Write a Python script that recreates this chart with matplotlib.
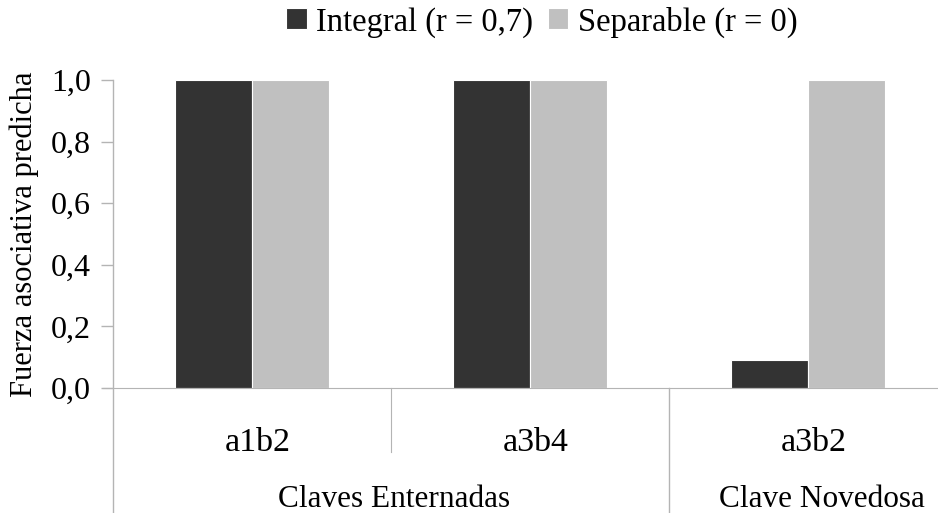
import numpy as np
import matplotlib.pyplot as plt
from matplotlib.transforms import blended_transform_factory

# data
categories = ["a1b2", "a3b4", "a3b2"]
integral = [1.0, 1.0, 0.09]
separable = [1.0, 1.0, 1.0]
yticks = [0.0, 0.2, 0.4, 0.6, 0.8, 1.0]
ytick_labels = ["0,0", "0,2", "0,4", "0,6", "0,8", "1,0"]
groups = ["Claves Enternadas", "Clave Novedosa"]
group_pos = [0.51, 2.05]

plt.rcParams['font.family'] = ['Liberation Serif', 'DejaVu Serif']

W, H = 938, 513
fig = plt.figure(figsize=(W / 100, H / 100), dpi=100)
ax = fig.add_axes([113 / W, 1 - 388 / H, 834 / W, 308 / H])

x = np.arange(len(categories))
w = 0.277
clr_dark = "#333333"
clr_light = "#c0c0c0"
axis_clr = "#b4b4b4"

ax.bar(x - w / 2, integral, w, color=clr_dark, edgecolor="white", linewidth=0.8,
       label="Integral (r = 0,7)")
ax.bar(x + w / 2, separable, w, color=clr_light, edgecolor="white", linewidth=0.8,
       label="Separable (r = 0)")

ax.set_xlim(-0.5, 2.5)
ax.set_ylim(0, 1.0)
ax.set_yticks(yticks)
ax.set_yticklabels(ytick_labels, fontsize=23)
ax.tick_params(axis='y', length=9, color=axis_clr, width=1, pad=7)
ax.set_xticks([])
for s in ["top", "right"]:
    ax.spines[s].set_visible(False)
ax.spines["left"].set_visible(False)
ax.spines["bottom"].set_color(axis_clr)
ax.spines["bottom"].set_bounds(-0.5 - 10 / 278, 2.5)

ax.set_ylabel("Fuerza asociativa predicha", fontsize=22)
ax.yaxis.set_label_coords(-(113 - 24) / 834, 0.5)
ax.yaxis.label.set_va("center")

# axis line and separators going down through the label area
tr = blended_transform_factory(ax.transData, ax.transAxes)
bottom = -(513 - 388) / 308
ax.plot([-0.5, -0.5], [1.0, bottom], transform=tr, color=axis_clr, lw=1, clip_on=False)
ax.plot([0.5, 0.5], [0, -(452 - 388) / 308], transform=tr, color=axis_clr, lw=0.8, clip_on=False)
ax.plot([1.5, 1.5], [0, bottom], transform=tr, color=axis_clr, lw=1, clip_on=False)

for i, c in enumerate(categories):
    ax.text(x[i] + 0.02, -(451 - 388) / 308, c, transform=tr, ha="center", va="baseline",
            fontsize=24.5)
for g, gx in zip(groups, group_pos):
    ax.text(gx, -(507 - 388) / 308, g, transform=tr, ha="center", va="baseline", fontsize=22.5)

fig.legend(loc="center", bbox_to_anchor=(542 / W, 1 - 22 / H), ncol=2, frameon=False,
           fontsize=23.5, handlelength=0.62, handleheight=0.62, handletextpad=0.3,
           columnspacing=0.45, borderpad=0)

fig.savefig("out.png", dpi=100)
